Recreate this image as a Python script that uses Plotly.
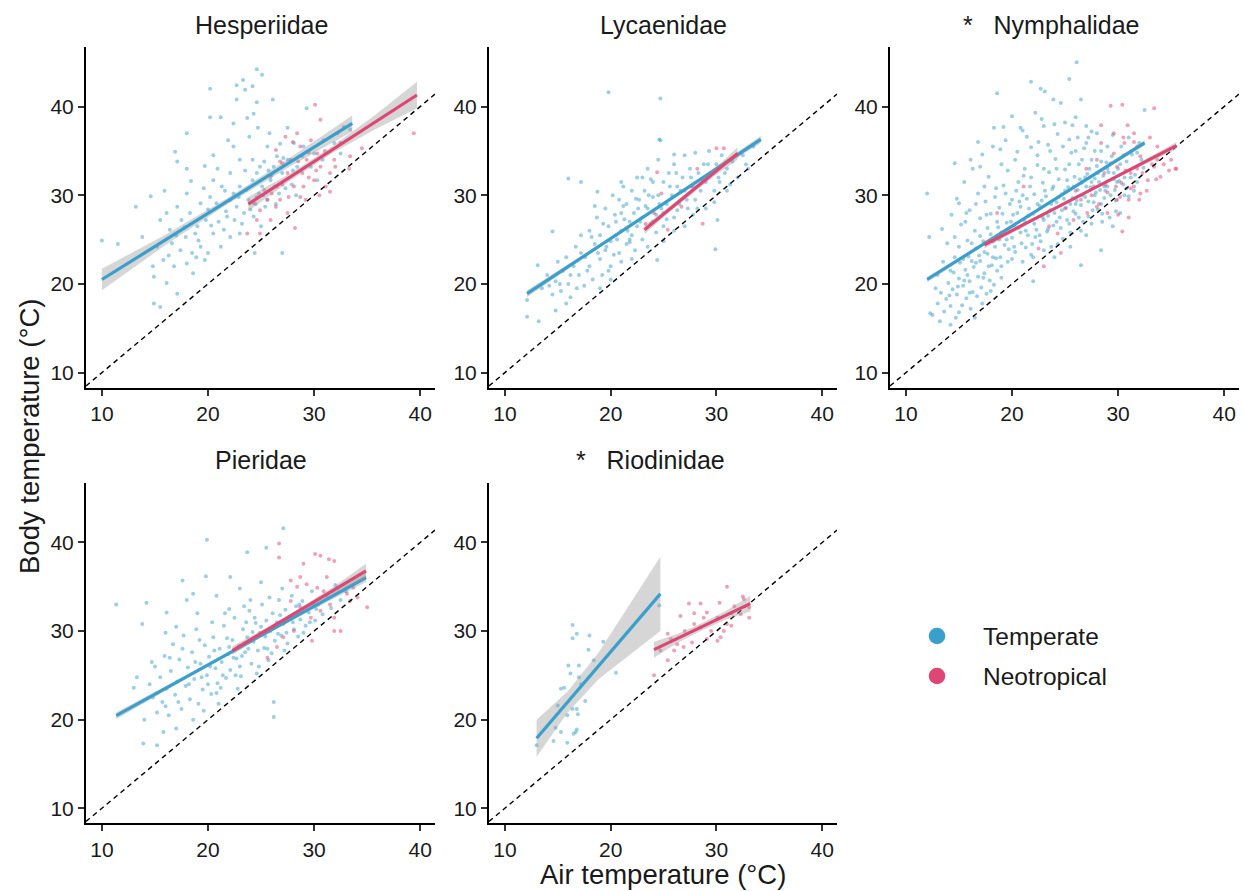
import plotly.graph_objects as go

W, H = 1243, 891
BLUE = '#3A9FCC'
RED = '#DE4674'
FONT = 'Liberation Sans, Arial, Helvetica, sans-serif'

panel_titles = ['Hesperiidae', 'Lycaenidae', '*\u00a0\u00a0\u00a0Nymphalidae',
                'Pieridae', '*\u00a0\u00a0\u00a0Riodinidae']
tick_vals = [10, 20, 30, 40]
x_range = [8.5, 41.4]
y_range = [8.3, 46.75]
legend_labels = ['Temperate', 'Neotropical']

# ---------------- estimated observations (air temp, body temp) ----------------
hes_temperate = [
    (10.0, 24.9), (11.5, 24.5), (13.2, 28.7), (14.6, 29.9), (14.9, 17.8), (15.5, 17.4), (14.9, 20.8),
    (24.6, 44.2), (25.1, 43.6), (23.3, 43.0), (24.2, 42.3), (20.2, 42.0), (22.7, 42.4), (23.5, 41.9),
    (22.7, 40.8), (24.6, 40.5), (26.1, 40.8), (20.2, 38.8), (21.2, 38.8), (23.7, 38.7), (18.0, 37.0),
    (22.4, 38.1), (24.3, 39.2), (24.7, 37.6),
    (16.9, 34.9), (17.1, 33.8), (18.0, 33.0), (19.7, 33.3), (20.5, 34.5), (22.1, 32.5), (22.4, 35.5),
    (23.0, 34.0), (24.2, 34.0), (24.9, 33.2), (25.6, 35.5), (26.5, 34.4), (27.5, 37.6), (28.1, 35.9),
    (29.0, 35.5), (30.0, 34.7), (29.3, 39.8),
    (15.5, 27.2), (16.1, 28.0), (16.4, 26.1), (17.1, 28.7), (17.5, 27.2), (18.0, 30.2), (18.3, 28.0),
    (18.8, 25.7), (19.3, 29.1), (19.8, 27.2), (20.2, 29.8), (20.5, 31.7), (20.8, 29.1), (21.3, 31.0),
    (21.8, 27.6), (22.1, 29.5), (22.4, 30.2), (22.7, 28.7), (23.0, 31.0), (23.4, 28.0), (23.8, 29.5),
    (24.2, 31.7), (24.6, 32.5), (25.1, 31.0), (25.6, 29.5), (25.9, 31.7), (26.2, 33.2), (26.7, 30.2),
    (27.0, 32.5), (27.5, 34.0), (27.9, 31.2), (28.4, 33.2), (28.9, 34.4), (29.7, 33.2), (30.3, 31.7),
    (30.8, 34.0), (31.9, 35.9), (32.5, 34.7), (33.4, 37.4),
    (15.2, 24.2), (15.8, 22.7), (16.1, 20.1), (16.8, 22.0), (17.1, 18.9), (17.4, 23.8), (17.9, 25.3),
    (18.0, 22.3), (18.5, 23.5), (18.6, 21.2), (19.3, 24.2), (19.7, 22.7), (20.5, 25.7), (21.2, 24.2),
    (21.5, 26.1), (22.1, 25.3), (23.0, 25.7), (24.4, 23.5), (27.0, 23.5), (14.8, 22.0),
    (24.3, 27.6), (25.0, 26.5), (25.4, 28.7),
    (19.0, 26.5), (20.0, 28.4), (21.0, 27.0), (21.6, 30.5), (22.5, 27.2), (23.2, 26.8), (23.6, 30.6),
    (24.0, 28.4), (24.8, 30.2), (25.3, 33.8), (26.0, 32.3), (26.4, 29.0), (27.3, 30.8), (28.0, 32.8),
    (16.6, 24.6), (17.8, 26.4), (18.9, 23.0), (19.6, 30.8), (20.9, 33.0), (21.9, 36.2), (23.9, 36.6),
    (25.8, 37.0), (26.8, 35.8), (13.8, 25.3), (15.9, 30.5),
    (20.3, 26.6), (21.7, 28.2), (22.9, 29.8), (23.5, 32.8), (24.5, 29.0), (25.2, 30.0), (25.7, 32.8),
    (26.3, 31.0), (27.1, 34.2), (28.3, 30.0), (18.4, 31.6), (19.1, 24.9), (17.0, 25.5), (16.3, 23.2),
    (20.0, 23.5),
]
hes_neotropical = [
    (23.7, 25.7), (24.6, 27.2), (24.9, 28.3), (25.6, 29.5), (25.3, 30.6), (25.9, 32.1), (26.5, 31.0),
    (26.8, 29.5), (27.5, 32.5), (27.8, 34.0), (28.1, 31.0), (28.2, 26.3), (28.4, 37.0), (28.7, 35.5),
    (28.9, 32.5), (29.2, 29.5), (29.3, 34.0), (29.7, 36.2), (30.0, 31.7), (30.1, 40.2), (30.3, 34.7),
    (30.6, 33.2), (30.9, 36.2), (31.1, 31.0), (31.5, 30.4), (31.9, 34.0), (32.2, 37.0), (32.5, 35.9),
    (32.8, 37.7), (33.3, 33.0), (33.4, 34.4), (34.5, 35.3), (39.4, 37.0), (30.6, 38.5), (27.3, 36.6),
    (26.4, 35.1), (24.6, 29.8), (24.3, 29.1), (28.7, 29.8), (27.5, 28.0), (26.4, 28.7), (25.9, 27.2),
    (24.9, 25.7), (27.0, 33.6), (29.5, 32.0), (30.5, 30.0), (28.0, 36.0), (31.0, 35.0),
    (26.0, 30.2), (27.0, 31.2), (27.6, 29.8), (28.5, 33.8), (29.0, 31.0), (29.5, 34.8), (30.2, 32.8),
    (31.5, 32.5), (32.0, 33.2), (26.8, 33.8),
]

lyc_temperate = [
    (19.8, 41.6), (24.7, 40.9), (24.7, 36.2), (16.0, 31.9), (12.1, 16.3), (12.1, 18.2), (13.2, 15.8),
    (13.1, 22.1), (14.5, 25.9), (29.9, 23.9), (30.1, 27.2), (24.4, 22.7), (21.8, 24.7),
    (17.2, 31.5), (18.75, 30.4),
    (13.5, 19.5), (14.0, 21.0), (14.5, 18.8), (14.8, 20.3), (15.0, 22.5), (15.3, 19.2), (15.5, 21.5),
    (15.8, 23.0), (16.0, 20.0), (16.2, 18.5), (16.5, 22.0), (16.7, 24.2), (17.0, 21.0), (17.2, 25.5),
    (17.5, 19.8), (17.6, 23.0), (18.0, 22.0), (18.0, 26.0), (18.3, 20.5), (18.5, 24.5), (18.7, 27.5),
    (19.0, 22.8), (19.0, 25.5), (19.2, 21.0), (19.5, 23.8), (19.5, 28.5), (19.8, 26.5), (20.0, 24.8),
    (20.0, 22.0), (20.2, 30.0), (20.5, 27.0), (20.5, 25.5), (20.8, 23.5), (21.0, 28.0), (21.0, 26.0),
    (21.2, 31.0), (21.5, 24.5), (21.5, 29.0), (21.8, 27.0), (22.0, 25.5), (22.0, 30.5), (22.2, 28.0),
    (22.5, 26.5), (22.5, 32.0), (22.7, 29.5), (23.0, 27.5), (23.0, 25.0), (23.2, 30.5), (23.5, 28.5),
    (23.5, 33.0), (23.8, 26.8), (24.0, 29.8), (24.0, 31.5), (24.3, 27.8), (24.5, 30.0), (24.5, 34.0),
    (24.8, 28.5), (25.0, 31.5), (25.0, 26.5), (25.3, 29.0), (25.5, 32.5), (25.8, 30.0), (26.0, 27.5),
    (26.0, 33.5), (26.3, 31.0), (26.5, 29.0), (26.8, 32.0), (27.0, 30.5), (27.0, 34.5), (27.3, 28.5),
    (27.5, 33.0), (27.8, 31.0), (28.0, 29.5), (28.0, 34.8), (28.3, 32.5), (28.5, 30.5), (28.8, 33.5),
    (29.0, 31.5), (29.0, 28.5), (29.3, 35.0), (29.5, 32.5), (29.8, 30.5), (30.0, 33.5), (30.3, 31.5),
    (30.5, 34.5), (30.8, 32.5), (31.0, 30.5), (31.5, 33.8), (32.0, 32.0), (32.5, 34.5), (33.0, 33.0),
    (33.5, 35.5),
    (19.3, 26.8), (20.3, 23.3), (21.3, 27.3), (22.3, 23.8), (23.3, 28.8), (24.3, 25.8), (25.3, 27.3),
    (26.3, 28.3), (23.8, 31.8), (22.8, 27.0), (21.8, 25.0), (20.8, 29.5), (19.8, 21.5), (18.8, 23.5),
    (17.8, 21.5), (16.8, 19.5), (15.8, 17.8), (14.8, 17.0), (27.8, 27.8), (29.8, 29.2), (31.3, 31.2),
    (32.8, 33.5), (24.6, 36.3), (26.0, 34.6), (21.0, 31.5), (18.5, 28.8),
    (19.6, 24.2), (20.6, 25.0), (21.6, 26.0), (22.6, 28.5), (23.6, 30.0), (24.6, 29.0), (25.6, 31.0),
    (26.6, 30.5), (27.6, 32.0), (28.6, 31.8), (22.4, 29.6), (21.2, 28.8), (20.4, 27.8), (23.0, 32.0),
    (24.0, 27.0), (25.0, 28.0), (26.2, 32.5), (27.2, 29.5), (28.2, 28.5), (29.2, 33.5), (30.2, 32.0),
    (31.0, 33.0), (18.2, 25.3), (17.2, 23.5), (16.2, 21.0), (15.2, 20.0), (14.2, 19.8), (19.0, 19.5),
    (20.0, 20.5), (21.0, 22.5), (22.0, 22.8), (23.5, 24.2), (25.0, 24.8), (26.0, 26.0), (27.0, 26.5),
]
lyc_neotropical = [
    (30.0, 35.3), (30.7, 35.3), (28.2, 33.0), (24.4, 32.6), (24.8, 30.2), (26.7, 28.7), (25.4, 26.1),
    (28.7, 26.8), (27.6, 31.0), (23.3, 26.8), (24.1, 28.0),
]

nym_temperate = [
    (12.5, 16.5), (13.0, 17.8), (13.3, 19.0), (13.6, 16.9), (13.8, 18.3), (14.0, 20.1), (14.2, 17.5),
    (14.4, 19.4), (14.5, 21.3), (14.7, 16.2), (14.8, 18.8), (15.0, 20.6), (15.1, 22.4), (15.3, 17.6),
    (15.4, 19.8), (15.6, 21.6), (15.7, 18.4), (15.9, 23.1), (16.0, 20.3), (16.1, 17.2), (16.3, 19.1),
    (16.4, 21.9), (16.6, 24.0), (16.7, 18.6), (16.8, 20.8), (17.0, 22.6), (17.1, 19.6), (17.3, 24.8),
    (17.4, 21.2), (17.6, 18.9), (17.7, 23.4), (17.9, 20.4), (18.0, 25.6), (18.1, 22.1), (18.3, 19.9),
    (18.4, 24.2), (18.6, 21.5), (18.7, 26.4), (18.9, 23.0), (19.0, 20.7),
    (13.4, 26.2), (13.9, 24.6), (14.3, 27.8), (14.6, 25.3), (15.0, 29.1), (15.2, 26.7), (15.5, 31.5),
    (15.8, 24.9), (16.0, 28.3), (16.3, 33.0), (16.5, 26.0), (16.8, 30.2), (17.0, 27.4), (17.2, 34.6),
    (17.5, 29.3), (17.8, 32.1), (18.0, 27.9), (18.2, 35.5), (18.5, 30.8), (18.8, 28.6), (19.0, 33.5),
    (19.2, 31.1),
    (19.3, 24.4), (19.5, 26.9), (19.6, 22.5), (19.8, 29.0), (20.0, 25.2), (20.1, 27.8), (20.3, 23.6),
    (20.4, 30.5), (20.6, 26.3), (20.8, 28.7), (20.9, 24.6), (21.1, 32.2), (21.2, 27.1), (21.4, 29.6),
    (21.5, 25.5), (21.7, 31.0), (21.8, 23.3), (22.0, 27.9), (22.1, 30.1), (22.3, 26.1), (22.4, 33.4),
    (22.6, 28.8), (22.7, 24.8), (22.9, 31.4), (23.0, 27.2), (23.2, 29.9), (23.3, 25.9), (23.5, 32.6),
    (23.6, 28.3), (23.8, 30.7), (23.9, 26.6), (24.1, 34.1), (24.2, 29.2), (24.4, 31.8), (24.5, 27.5),
    (24.7, 30.1), (24.8, 25.1), (25.0, 32.9), (25.1, 28.6), (25.3, 30.9), (25.4, 26.8), (25.6, 34.8),
    (25.7, 29.7), (25.9, 32.1), (26.0, 27.9), (26.2, 30.6), (26.3, 33.5), (26.5, 28.9), (26.6, 31.4),
    (26.8, 35.3), (26.9, 29.8), (27.1, 32.4), (27.2, 27.6), (27.4, 30.9), (27.5, 34.0), (27.7, 29.2),
    (27.8, 31.9), (28.0, 33.3), (28.1, 28.4), (28.3, 30.6), (28.4, 35.0), (28.6, 32.2), (28.7, 29.7),
    (28.9, 33.7), (29.0, 31.0), (29.2, 27.5), (29.4, 34.4), (29.6, 31.8), (29.8, 29.4), (30.0, 33.0),
    (30.3, 35.5), (30.5, 31.2), (30.8, 33.8), (31.0, 29.9), (31.3, 34.6), (31.6, 32.3), (32.0, 35.9),
    (32.4, 33.1),
    (19.4, 36.2), (20.0, 38.9), (20.5, 34.9), (21.0, 37.3), (21.4, 36.6), (21.8, 35.4), (22.2, 39.3),
    (22.5, 36.0), (23.0, 37.8), (23.4, 35.7), (23.9, 40.8), (24.3, 36.9), (24.6, 40.4), (25.0, 38.2),
    (25.4, 36.3), (25.7, 37.9), (26.2, 36.5), (26.5, 40.8), (27.0, 35.9), (27.5, 37.2),
    (12.0, 30.2), (12.2, 25.3), (26.1, 45.0), (21.8, 42.8), (25.4, 43.1), (22.7, 42.0), (23.1, 41.7),
    (18.6, 41.5), (18.3, 37.6), (19.2, 37.7), (32.5, 39.6), (28.4, 23.8), (26.5, 22.1), (22.0, 20.3),
    (12.3, 16.7), (13.2, 15.8), (14.2, 15.4), (14.6, 33.6), (16.1, 34.0), (17.0, 33.2), (14.8, 29.6),
    (15.7, 28.0), (24.0, 23.0), (25.5, 24.2), (27.0, 25.5), (29.5, 26.5), (30.2, 28.0), (31.5, 30.5),
    (19.7, 23.9), (20.2, 26.6), (20.7, 29.3), (21.3, 24.1), (21.6, 27.7), (22.2, 25.3), (22.8, 29.4),
    (23.4, 27.7), (23.7, 24.2), (24.0, 28.0), (24.6, 26.3), (24.9, 29.6), (25.2, 31.7), (25.8, 28.2),
    (26.1, 29.4), (26.4, 31.8), (26.7, 27.0), (27.0, 31.0), (27.3, 33.0), (27.6, 28.3), (27.9, 30.3),
    (28.2, 31.5), (28.5, 27.9), (28.8, 30.5), (29.1, 32.6), (29.7, 30.6), (30.1, 31.6), (30.6, 30.0),
    (31.2, 32.0), (18.2, 23.0), (18.8, 25.0), (19.1, 27.9), (17.7, 26.3), (16.9, 23.2), (16.2, 22.6),
    (15.5, 20.4), (14.9, 19.7), (14.1, 18.7), (17.3, 20.7), (18.5, 22.9),
    (19.5, 25.0), (19.9, 27.0), (20.2, 24.2), (20.5, 28.0), (20.8, 25.8), (21.0, 30.0), (21.3, 26.0),
    (21.6, 28.5), (21.9, 24.5), (22.1, 26.8), (22.4, 29.0), (22.6, 25.5), (22.9, 27.5), (23.1, 30.5),
    (23.4, 26.2), (23.7, 29.0), (23.9, 31.0), (24.2, 27.0), (24.4, 29.8), (24.7, 28.3), (25.0, 30.5),
    (25.2, 27.2), (25.5, 29.0), (25.8, 31.0), (26.0, 29.0), (26.3, 27.5), (26.6, 30.0), (26.9, 32.0),
    (27.2, 29.3), (27.5, 31.5), (27.8, 30.0), (28.1, 32.5), (28.4, 29.0), (28.7, 31.0), (29.0, 33.0),
    (29.3, 30.0), (29.6, 32.5), (29.9, 31.5), (30.2, 33.5), (30.6, 32.0),
    (20.0, 29.5), (20.6, 31.5), (21.2, 33.0), (21.8, 32.0), (22.4, 34.5), (23.0, 33.0), (23.6, 35.0),
    (24.2, 33.0), (24.8, 35.5), (25.4, 33.5), (26.0, 35.0), (26.6, 34.0), (27.2, 36.5), (27.8, 35.0),
    (28.4, 33.8), (29.0, 35.5),
    (21.0, 22.5), (22.0, 23.0), (23.0, 23.8), (24.3, 24.5), (25.5, 25.8), (26.5, 26.0), (27.5, 26.8),
    (28.5, 27.0), (19.0, 22.0), (20.0, 22.8),
    (14.2, 21.5), (14.6, 23.0), (15.0, 24.2), (15.4, 22.8), (15.8, 21.0), (16.2, 24.6), (16.6, 22.4),
    (17.0, 25.4), (17.4, 23.6), (17.8, 22.0), (18.2, 24.8), (18.6, 27.0), (19.0, 25.8), (13.0, 21.0),
    (13.5, 22.5), (12.8, 19.5), (16.0, 19.0), (17.2, 17.8), (18.0, 19.2), (15.0, 16.8), (16.5, 16.2),
    (17.6, 27.8), (18.4, 29.8), (19.4, 30.2), (19.6, 32.8), (20.3, 34.0), (18.9, 35.2), (17.4, 31.0),
    (16.6, 29.0), (15.6, 27.0), (16.8, 36.0), (20.8, 37.6), (22.8, 38.6), (24.0, 38.0), (26.0, 38.8),
    (28.0, 37.0), (29.5, 36.8), (30.5, 34.5), (31.8, 34.8), (31.0, 36.5), (27.0, 37.8), (29.8, 28.2),
    (30.8, 30.8), (31.8, 31.5), (32.2, 34.0),
]
nym_neotropical = [
    (29.3, 40.1), (30.4, 40.2), (33.4, 39.8), (28.4, 37.9), (30.9, 37.9), (31.5, 37.0), (30.6, 35.9),
    (29.6, 34.7), (32.1, 34.4), (33.7, 34.0), (34.0, 32.1), (35.5, 33.0), (35.0, 34.0), (31.2, 32.5),
    (30.3, 31.4), (29.0, 30.3), (31.0, 29.5), (31.5, 31.0), (32.8, 31.7), (28.0, 28.7), (27.1, 28.0),
    (25.8, 27.2), (24.3, 25.7), (24.6, 23.5), (23.0, 22.0), (30.4, 25.9), (33.4, 33.2), (32.1, 30.2),
    (29.9, 33.2), (28.7, 32.5), (27.7, 31.0), (26.5, 29.5), (29.9, 29.5), (33.7, 35.5), (31.8, 35.5),
    (29.6, 37.0), (28.4, 35.9), (21.1, 31.0), (18.6, 28.0),
    (27.5, 30.0), (28.2, 29.0), (28.8, 31.2), (29.3, 33.6), (29.8, 31.0), (30.2, 29.8), (30.7, 32.8),
    (31.2, 30.8), (31.8, 33.0), (32.3, 32.5), (32.7, 30.5), (33.2, 33.5), (33.6, 31.8), (34.3, 33.5),
    (34.8, 32.8), (31.0, 27.5), (30.0, 27.8), (29.0, 28.0), (32.0, 29.5), (33.0, 36.5), (28.0, 34.0),
    (27.0, 33.0), (26.0, 30.5), (25.0, 28.5), (23.5, 26.5), (22.5, 24.0), (35.4, 33.0), (31.5, 36.0),
    (30.5, 36.5),
]

pie_temperate = [
    (11.35, 33.0), (14.2, 33.2), (13.8, 30.8), (19.9, 40.3), (19.8, 36.2), (17.6, 35.7), (18.6, 34.2),
    (16.1, 32.1), (23.7, 38.9), (25.5, 39.4), (27.1, 41.6), (22.1, 36.1), (26.2, 22.0), (26.2, 20.3),
    (13.9, 17.3), (15.2, 17.1), (15.8, 18.6), (13.0, 23.6), (13.3, 24.8), (14.7, 26.5),
    (14.5, 24.0), (14.8, 22.5), (15.0, 26.0), (15.2, 20.8), (15.5, 24.8), (15.7, 22.0), (15.9, 27.2),
    (16.1, 23.5), (16.3, 20.5), (16.5, 25.5), (16.7, 28.5), (16.9, 22.8), (17.1, 24.3), (17.3, 26.8),
    (17.5, 21.2), (17.7, 29.5), (17.9, 23.8), (18.1, 25.9), (18.3, 22.3), (18.5, 27.6), (18.7, 24.6),
    (18.9, 30.2), (19.1, 21.8), (19.3, 26.3), (19.5, 23.4), (19.7, 28.4), (19.9, 25.0), (20.1, 27.1),
    (20.3, 22.9), (20.5, 29.3), (20.7, 25.8), (20.9, 24.1), (21.1, 28.0), (21.3, 26.5), (21.5, 30.6),
    (21.7, 24.7), (21.9, 27.4), (22.1, 25.6), (22.3, 29.0), (22.5, 31.5), (22.7, 26.9), (22.9, 28.3),
    (23.1, 24.9), (23.3, 30.2), (23.5, 27.6), (23.7, 29.3), (23.9, 32.3), (24.1, 26.3), (24.3, 28.8),
    (24.5, 30.9), (24.7, 27.8), (24.9, 29.8), (25.1, 33.0), (25.3, 28.1), (25.5, 31.2), (25.7, 26.7),
    (25.9, 30.0), (26.1, 32.0), (26.3, 28.9), (26.5, 31.0), (26.7, 33.5), (26.9, 29.5), (27.1, 30.8),
    (27.3, 32.4), (27.5, 28.6), (27.7, 31.6), (27.9, 34.0), (28.1, 30.2), (28.3, 32.8), (28.5, 29.4),
    (28.7, 31.3), (28.9, 33.4), (29.2, 30.6), (29.5, 32.1), (29.8, 34.5), (30.1, 31.2), (30.4, 33.0),
    (30.8, 31.9), (31.2, 34.0), (31.6, 32.6), (32.0, 35.2), (32.5, 33.5), (33.0, 34.5),
    (20.0, 24.0), (20.6, 27.8), (21.2, 23.6), (21.8, 29.2), (22.4, 27.0), (23.0, 26.0), (23.6, 31.0),
    (24.2, 29.9), (24.8, 26.0), (25.4, 29.4), (26.0, 27.5), (26.6, 29.7), (27.2, 27.8), (24.0, 33.5),
    (22.0, 32.5), (23.0, 34.8), (25.0, 35.5), (19.0, 32.0), (18.0, 33.5), (17.0, 30.5), (16.0, 29.8),
    (18.2, 24.0), (18.8, 26.5), (19.4, 24.8), (20.2, 26.0), (20.8, 23.0), (21.4, 25.0), (22.0, 28.2),
    (22.6, 25.0), (23.2, 27.2), (23.8, 28.0), (24.4, 31.5), (25.0, 30.5), (25.6, 28.0), (26.2, 30.5),
    (26.8, 31.8), (27.4, 29.8), (28.0, 31.0), (28.6, 33.0), (29.0, 29.8), (29.6, 31.0), (30.2, 32.5),
    (17.2, 22.0), (16.4, 27.0), (17.6, 28.0), (19.2, 29.0), (20.4, 31.0), (21.6, 32.0), (15.2, 23.0),
    (16.0, 21.5), (19.6, 21.0), (21.0, 21.8), (22.8, 23.5), (24.6, 25.2), (25.8, 33.8), (27.0, 34.8),
    (23.4, 32.8), (20.8, 34.0), (14.0, 20.0), (17.0, 19.0), (18.6, 20.0),
]
pie_neotropical = [
    (26.7, 39.9), (26.7, 38.3), (30.1, 38.7), (30.6, 38.5), (31.4, 38.1), (31.9, 37.9), (29.0, 37.6),
    (28.7, 36.1), (29.3, 35.3), (27.8, 35.7), (30.3, 34.9), (31.2, 36.1), (32.2, 34.9), (33.1, 34.2),
    (33.7, 34.9), (35.0, 32.7), (33.4, 33.4), (31.5, 33.0), (30.0, 33.0), (30.6, 32.3), (28.7, 32.7),
    (27.8, 33.4), (29.7, 31.5), (31.9, 31.5), (32.5, 30.0), (29.8, 28.9), (28.1, 30.0), (27.1, 29.3),
    (26.5, 28.2), (25.6, 27.0), (34.1, 33.8), (30.9, 34.5), (31.9, 30.0), (28.4, 35.0),
]

rio_temperate = [
    (16.4, 30.7), (16.8, 29.7), (16.4, 29.2), (18.0, 29.5), (19.3, 28.8), (17.9, 27.9), (18.4, 26.7),
    (20.5, 25.3), (16.0, 26.1), (16.2, 25.2), (17.0, 26.1), (17.0, 24.8), (15.3, 23.5), (15.6, 23.6),
    (17.2, 24.0), (17.6, 22.1), (15.0, 21.6), (16.4, 21.2), (16.8, 21.2), (16.9, 20.6), (15.9, 20.5),
    (14.8, 19.1), (15.3, 18.6), (16.7, 18.6), (16.8, 18.9), (16.5, 18.4), (14.6, 17.6), (15.9, 17.4),
    (13.0, 17.1), (24.6, 32.9),
]
rio_neotropical = [
    (31.0, 35.0), (27.4, 33.1), (28.5, 33.1), (30.3, 33.2), (32.5, 33.9), (32.6, 33.6), (26.6, 31.7),
    (27.9, 32.0), (29.1, 32.1), (28.8, 31.5), (30.1, 31.5), (31.4, 32.0), (32.3, 31.9), (33.1, 31.5),
    (25.4, 29.7), (25.7, 29.1), (27.0, 30.0), (27.9, 30.8), (28.5, 30.4), (29.5, 30.0), (29.1, 29.1),
    (30.1, 28.9), (30.4, 29.3), (31.0, 30.8), (31.4, 30.6), (26.3, 28.5), (26.9, 28.2), (27.7, 28.7),
    (25.4, 26.7), (24.1, 25.0), (24.7, 27.8), (26.0, 27.8), (31.7, 32.8), (33.1, 32.7), (30.7, 30.0),
]

# ---------------- fitted lines: (x_start, y_start, x_end, y_end) ----------------
# and CI half-widths read at 0, 25, 50, 75, 100 % of each line's span
hes_temperate_fit = (10.0, 20.5, 33.6, 38.1)
hes_temperate_ci = [1.2, 0.6, 0.35, 0.5, 0.9]
hes_neotropical_fit = (23.8, 29.0, 39.7, 41.3)
hes_neotropical_ci = [0.8, 0.4, 0.4, 0.8, 1.5]
lyc_temperate_fit = (12.1, 18.9, 34.2, 36.3)
lyc_temperate_ci = [0.4, 0.2, 0.15, 0.2, 0.4]
lyc_neotropical_fit = (23.2, 26.1, 32.0, 34.7)
lyc_neotropical_ci = [0.5, 0.3, 0.3, 0.4, 0.7]
nym_temperate_fit = (12.0, 20.5, 32.5, 35.9)
nym_temperate_ci = [0.3, 0.15, 0.1, 0.15, 0.3]
nym_neotropical_fit = (17.4, 24.4, 35.5, 35.6)
nym_neotropical_ci = [0.4, 0.2, 0.15, 0.2, 0.4]
pie_temperate_fit = (11.35, 20.45, 34.9, 36.05)
pie_temperate_ci = [0.4, 0.2, 0.15, 0.25, 0.5]
pie_neotropical_fit = (22.3, 27.8, 34.9, 36.8)
pie_neotropical_ci = [0.5, 0.3, 0.25, 0.4, 0.8]
rio_temperate_fit = (13.0, 17.9, 24.7, 34.2)
rio_temperate_ci = [2.1, 1.2, 1.5, 2.8, 4.2]
rio_neotropical_fit = (24.1, 27.9, 33.2, 33.1)
rio_neotropical_ci = [0.9, 0.5, 0.4, 0.5, 0.9]

panels = [
    (hes_temperate, hes_neotropical, hes_temperate_fit, hes_temperate_ci, hes_neotropical_fit, hes_neotropical_ci),
    (lyc_temperate, lyc_neotropical, lyc_temperate_fit, lyc_temperate_ci, lyc_neotropical_fit, lyc_neotropical_ci),
    (nym_temperate, nym_neotropical, nym_temperate_fit, nym_temperate_ci, nym_neotropical_fit, nym_neotropical_ci),
    (pie_temperate, pie_neotropical, pie_temperate_fit, pie_temperate_ci, pie_neotropical_fit, pie_neotropical_ci),
    (rio_temperate, rio_neotropical, rio_temperate_fit, rio_temperate_ci, rio_neotropical_fit, rio_neotropical_ci),
]

# ---------------- layout geometry (pixels) ----------------
col_px = [(86, 435), (489, 837), (890, 1239)]
row_px = [(46.7, 387.7), (482.7, 823.3)]
title_px = [(261.5, 25), (663, 25), (1050.5, 25), (260.8, 460), (650.5, 460)]

fig = go.Figure()
layout = dict(
    width=W, height=H, margin=dict(l=0, r=0, t=0, b=0, pad=0),
    paper_bgcolor='white', plot_bgcolor='white', showlegend=False,
    font=dict(family=FONT, color='#1a1a1a'),
)
annotations = []
shapes = []

for i, (temp, neo, tfit, tci, nfit, nci) in enumerate(panels):
    r, c = divmod(i, 3)
    n = i + 1
    xa = 'x' if n == 1 else f'x{n}'
    ya = 'y' if n == 1 else f'y{n}'
    xd = [col_px[c][0] / W, col_px[c][1] / W]
    yd = [1 - row_px[r][1] / H, 1 - row_px[r][0] / H]
    ax_common = dict(showline=True, linecolor='black', linewidth=2, ticks='outside',
                     ticklen=6, tickwidth=1.8, tickcolor='#333333', showgrid=False, zeroline=False,
                     tickvals=tick_vals, tickfont=dict(size=21, family=FONT, color='#1a1a1a'),
                     fixedrange=True)
    layout['xaxis' if n == 1 else f'xaxis{n}'] = dict(ax_common, domain=xd, range=x_range, anchor=ya)
    layout['yaxis' if n == 1 else f'yaxis{n}'] = dict(ax_common, domain=yd, range=y_range, anchor=xa)

    # points
    for pts, col in ((temp, BLUE), (neo, RED)):
        fig.add_trace(go.Scatter(
            x=[p[0] for p in pts], y=[p[1] for p in pts], mode='markers',
            marker=dict(size=4, color=col, opacity=0.5, line=dict(width=0)),
            xaxis=xa, yaxis=ya, hoverinfo='skip'))
    # 1:1 line
    fig.add_trace(go.Scatter(x=x_range, y=x_range, mode='lines',
                             line=dict(color='black', width=1.4, dash='5px,4px'),
                             xaxis=xa, yaxis=ya, hoverinfo='skip'))
    # fits with CI bands
    for fit, ci, col in ((tfit, tci, BLUE), (nfit, nci, RED)):
        x0, y0, x1, y1 = fit
        fr = [0, 0.25, 0.5, 0.75, 1.0]
        xs = [x0 + f * (x1 - x0) for f in fr]
        ys = [y0 + f * (y1 - y0) for f in fr]
        hi = [y + h for y, h in zip(ys, ci)]
        lo = [y - h for y, h in zip(ys, ci)]
        fig.add_trace(go.Scatter(x=xs + xs[::-1], y=hi + lo[::-1], mode='lines', fill='toself',
                                 fillcolor='rgba(153,153,153,0.4)', line=dict(width=0),
                                 xaxis=xa, yaxis=ya, hoverinfo='skip'))
        fig.add_trace(go.Scatter(x=[x0, x1], y=[y0, y1], mode='lines',
                                 line=dict(color=col, width=3.2),
                                 xaxis=xa, yaxis=ya, hoverinfo='skip'))

    tx, ty = title_px[i]
    annotations.append(dict(text=panel_titles[i], x=tx / W, y=1 - ty / H, xref='paper', yref='paper',
                            xanchor='center', yanchor='middle', showarrow=False,
                            font=dict(size=25, family=FONT, color='#1a1a1a')))

# axis titles
annotations.append(dict(text='Air temperature (°C)', x=662.5 / W, y=1 - 874 / H, xref='paper', yref='paper',
                        xanchor='center', yanchor='middle', showarrow=False,
                        font=dict(size=27.5, family=FONT, color='#1a1a1a')))
annotations.append(dict(text='Body temperature (°C)', x=29 / W, y=1 - 437 / H, xref='paper', yref='paper',
                        xanchor='center', yanchor='middle', showarrow=False, textangle=-90,
                        font=dict(size=27.5, family=FONT, color='#1a1a1a')))

# legend (drawn manually)
leg_y = [636, 676]
for lab, col, py in zip(legend_labels, (BLUE, RED), leg_y):
    rad = 8.3
    shapes.append(dict(type='circle', xref='paper', yref='paper',
                       x0=(937 - rad) / W, x1=(937 + rad) / W,
                       y0=1 - (py + rad) / H, y1=1 - (py - rad) / H,
                       fillcolor=col, line=dict(width=0)))
    annotations.append(dict(text=lab, x=981 / W, y=1 - py / H, xref='paper', yref='paper',
                            xanchor='left', yanchor='middle', showarrow=False,
                            font=dict(size=24.5, family=FONT, color='#1a1a1a')))

layout['annotations'] = annotations
layout['shapes'] = shapes
fig.update_layout(**layout)
fig.write_html('out.html', config={'displayModeBar': False},
               post_script="document.body.style.margin='0';document.body.style.overflow='hidden';")
